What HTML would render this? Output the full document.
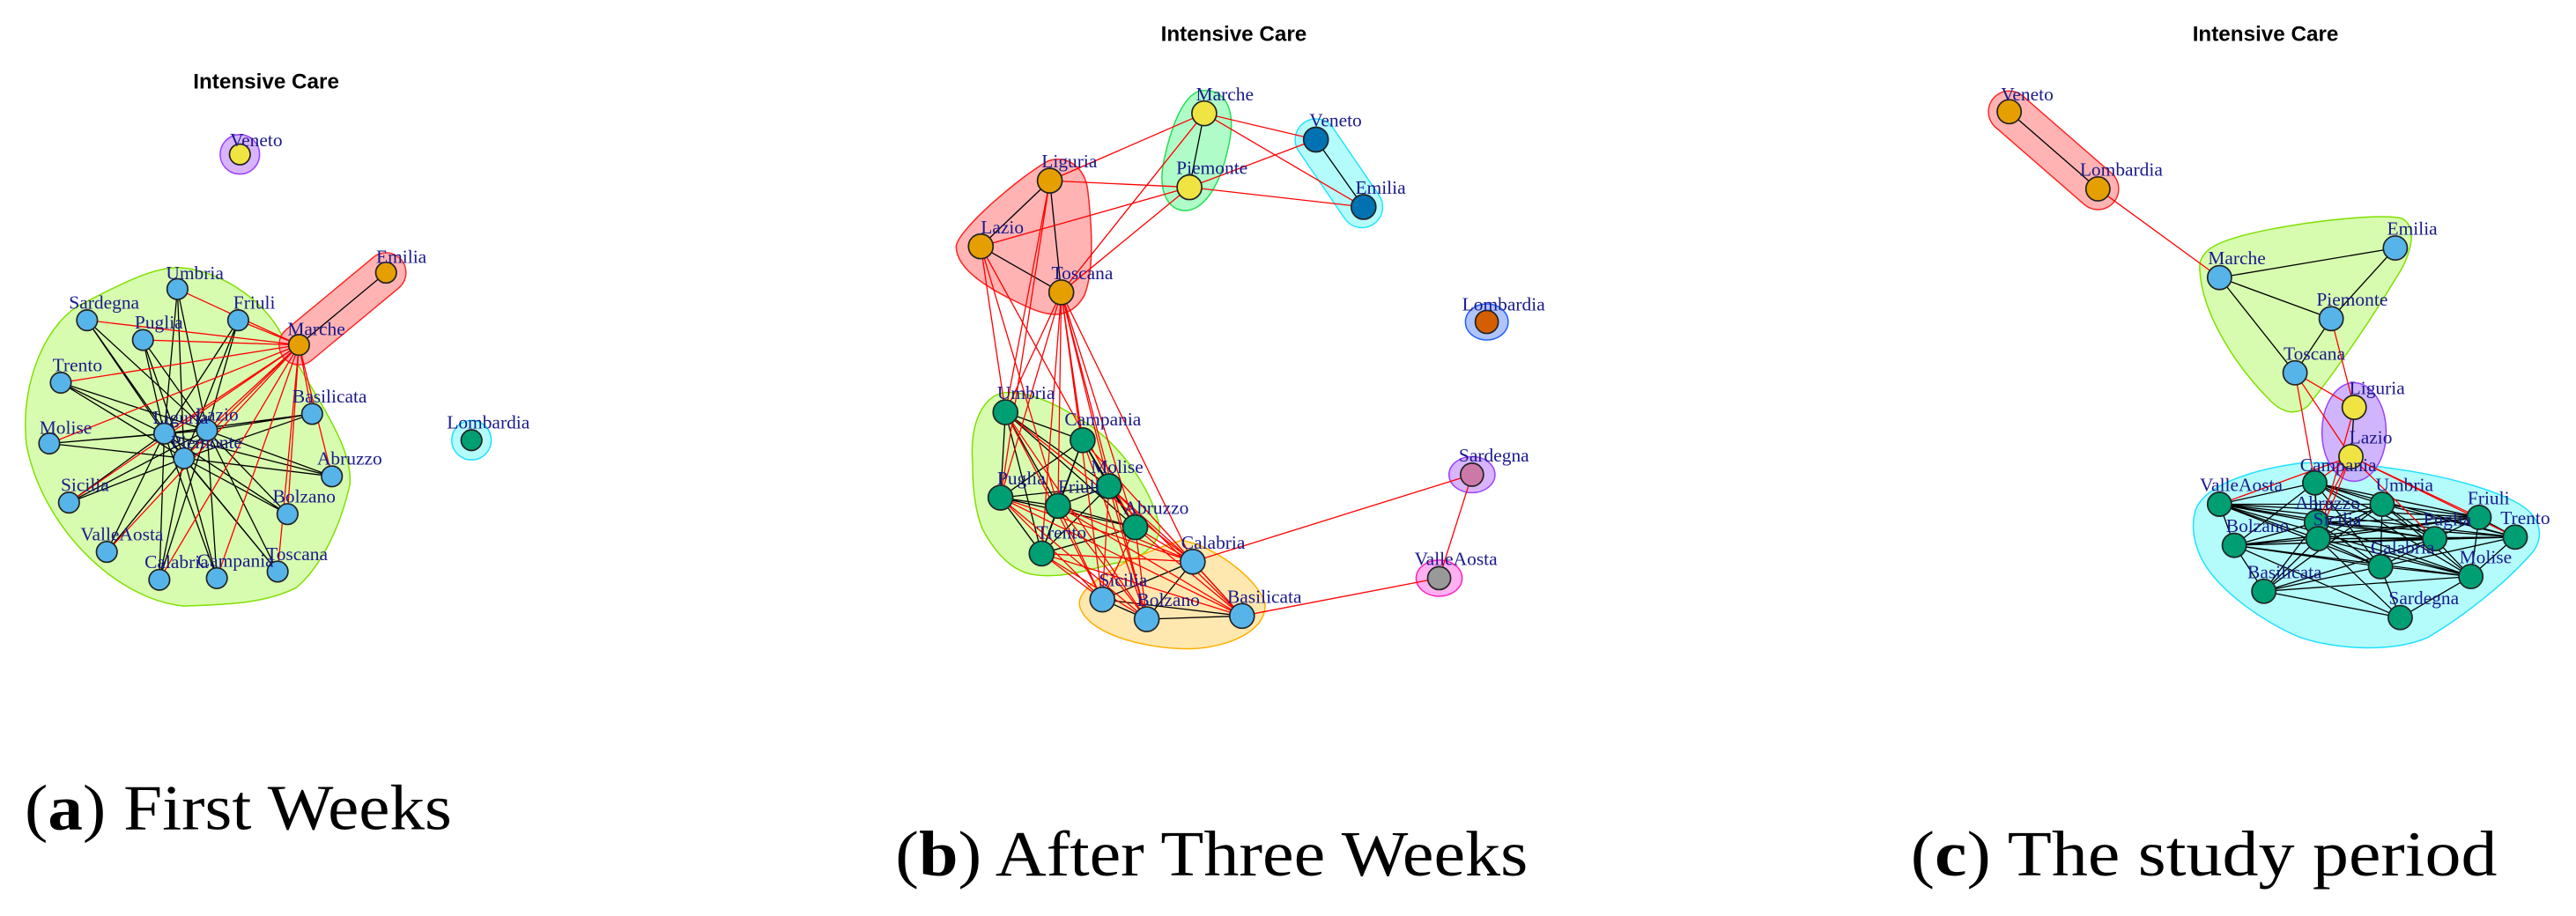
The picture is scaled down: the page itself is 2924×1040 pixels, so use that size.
<!DOCTYPE html>
<html><head><meta charset="utf-8"><style>
html,body{margin:0;padding:0;background:#fff;}
svg{display:block;}
.l{font-family:"Liberation Serif",serif;font-size:11.5px;fill:#1a1a8c;}
.t{font-family:"Liberation Sans",sans-serif;font-size:13px;font-weight:bold;fill:#000;text-anchor:middle;}
.cap{font-family:"Liberation Serif",serif;font-size:39px;fill:#000;}
.n{stroke:#222;stroke-width:0.9;}
</style></head><body>
<svg width="2924" height="1040" viewBox="0 0 1568 557.7" preserveAspectRatio="none" xmlns="http://www.w3.org/2000/svg">
<rect width="1568" height="558" fill="#fff"/>
<!-- ===== Panel A ===== -->
<text class="t" x="162" y="54">Intensive Care</text>
<path d="M112 369 C70 365 25 320 16 270 C12 230 30 195 50 185 C75 172 95 162 110 163 C130 164 160 180 172 205 C190 240 215 270 213 295 C205 330 190 350 180 358 C160 368 135 368 112 369Z" fill="#d7fcb0" stroke="#80e000" stroke-width="0.8"/>
<line x1="235" y1="166" x2="182" y2="210" stroke="#ff2020" stroke-width="25" stroke-linecap="round"/>
<line x1="235" y1="166" x2="182" y2="210" stroke="#ffb3b3" stroke-width="23.5" stroke-linecap="round"/>
<circle cx="146" cy="94" r="12" fill="#d8b4fc" stroke="#9a40ff" stroke-width="0.8"/>
<circle cx="287" cy="268" r="12" fill="#b4fcfc" stroke="#20e0ff" stroke-width="0.8"/>
<path stroke="#000" stroke-width="0.7" fill="none" d="
M100 264L108 176M100 264L53 195M100 264L87 207M100 264L145 195M100 264L37 233M100 264L30 270M100 264L190 252M100 264L202 290M100 264L42 306M100 264L175 313M100 264L65 336M100 264L97 353M100 264L132 352M100 264L169 348
M126 262L108 176M126 262L53 195M126 262L87 207M126 262L145 195M126 262L37 233M126 262L30 270M126 262L190 252M126 262L202 290M126 262L42 306M126 262L175 313M126 262L65 336M126 262L97 353M126 262L132 352M126 262L169 348
M112 279L108 176M112 279L53 195M112 279L87 207M112 279L145 195M112 279L37 233M112 279L30 270M112 279L190 252M112 279L202 290M112 279L42 306M112 279L175 313M112 279L65 336M112 279L97 353M112 279L132 352M112 279L169 348
M100 264L126 262M126 262L112 279M100 264L112 279M235 166L182 210"/>
<path stroke="#ff0000" stroke-width="0.7" fill="none" d="
M182 210L108 176M182 210L53 195M182 210L87 207M182 210L145 195M182 210L37 233M182 210L30 270M182 210L100 264M182 210L126 262M182 210L112 279M182 210L190 252M182 210L202 290M182 210L42 306M182 210L175 313M182 210L65 336M182 210L97 353M182 210L132 352M182 210L169 348"/>
<g class="n" fill="#56b4e9">
<circle cx="108" cy="176" r="6.3"/><circle cx="53" cy="195" r="6.3"/><circle cx="87" cy="207" r="6.3"/><circle cx="145" cy="195" r="6.3"/><circle cx="37" cy="233" r="6.3"/><circle cx="30" cy="270" r="6.3"/><circle cx="100" cy="264" r="6.3"/><circle cx="126" cy="262" r="6.3"/><circle cx="112" cy="279" r="6.3"/><circle cx="190" cy="252" r="6.3"/><circle cx="202" cy="290" r="6.3"/><circle cx="42" cy="306" r="6.3"/><circle cx="175" cy="313" r="6.3"/><circle cx="65" cy="336" r="6.3"/><circle cx="97" cy="353" r="6.3"/><circle cx="132" cy="352" r="6.3"/><circle cx="169" cy="348" r="6.3"/>
</g>
<circle class="n" cx="146" cy="94" r="6.3" fill="#f0e442"/>
<circle class="n" cx="235" cy="166" r="6.3" fill="#e69f00"/>
<circle class="n" cx="182" cy="210" r="6.3" fill="#e69f00"/>
<circle class="n" cx="287" cy="268" r="6.3" fill="#009e73"/>
<g class="l">
<text x="140" y="89">Veneto</text><text x="229" y="160">Emilia</text><text x="175" y="204">Marche</text><text x="101" y="170">Umbria</text><text x="42" y="188">Sardegna</text><text x="82" y="200">Puglia</text><text x="142" y="188">Friuli</text><text x="32" y="226">Trento</text><text x="24" y="264">Molise</text><text x="93" y="258">Liguria</text><text x="119" y="256">Lazio</text><text x="104" y="273">Piemonte</text><text x="178" y="245">Basilicata</text><text x="193" y="283">Abruzzo</text><text x="37" y="299">Sicilia</text><text x="166" y="306">Bolzano</text><text x="49" y="329">ValleAosta</text><text x="88" y="346">Calabria</text><text x="120" y="345">Campania</text><text x="162" y="341">Toscana</text><text x="272" y="261">Lombardia</text>
</g>
<text class="cap" x="15" y="505" textLength="260" lengthAdjust="spacingAndGlyphs">(<tspan font-weight="bold">a</tspan>) First Weeks</text>

<!-- ===== Panel B ===== -->
<text class="t" x="751" y="25">Intensive Care</text>
<path d="M582 150 C583 140 620 108 638 98 C650 94 660 102 662 115 C665 140 666 165 660 180 C652 194 640 193 628 188 C605 178 582 165 582 150Z" fill="#ffb3b3" stroke="#ff2020" stroke-width="0.8"/>
<path d="M733 55 C748 55 752 70 748 88 C744 108 736 125 724 128 C712 130 705 118 708 100 C712 80 720 55 733 55Z" fill="#b0fcc8" stroke="#20e050" stroke-width="0.8"/>
<line x1="801" y1="85" x2="829" y2="126" stroke="#20e0ff" stroke-width="26" stroke-linecap="round"/>
<line x1="801" y1="85" x2="829" y2="126" stroke="#b4fcfc" stroke-width="24.5" stroke-linecap="round"/>
<path d="M592 282 C590 255 600 240 612 239 C630 238 650 250 665 260 C685 275 702 300 706 322 C704 335 690 342 678 343 C660 348 645 352 630 350 C615 348 605 335 598 322 C593 310 592 295 592 282Z" fill="#d7fcb0" stroke="#80e000" stroke-width="0.8"/>
<path d="M657 368 C656 355 690 338 719 329 C740 332 768 355 770 368 C771 385 745 395 723 395 C695 395 660 385 657 368Z" fill="#ffe8b0" stroke="#ffb000" stroke-width="0.8"/>
<ellipse cx="905" cy="196" rx="13" ry="11" fill="#b0c4fc" stroke="#2060ff" stroke-width="0.8"/>
<ellipse cx="896" cy="289" rx="14" ry="11" fill="#d8b4fc" stroke="#9a40ff" stroke-width="0.8"/>
<ellipse cx="876" cy="352" rx="14" ry="11" fill="#ffb0f0" stroke="#ff20c0" stroke-width="0.8"/>
<path stroke="#000" stroke-width="0.7" fill="none" d="
M639 110L597 150M639 110L646 178M597 150L646 178M733 69L724 114M801 85L830 126
M612 251L659 268M612 251L675 296M612 251L609 303M612 251L644 308M612 251L691 321M612 251L634 337
M659 268L675 296M659 268L609 303M659 268L644 308M659 268L691 321M659 268L634 337
M675 296L609 303M675 296L644 308M675 296L691 321M675 296L634 337
M609 303L644 308M609 303L691 321M609 303L634 337M644 308L691 321M644 308L634 337M691 321L634 337
M726 342L671 365M726 342L698 377M726 342L756 375M671 365L698 377M671 365L756 375M698 377L756 375"/>
<path stroke="#ff0000" stroke-width="0.7" fill="none" d="
M639 110L733 69M639 110L724 114M597 150L724 114M646 178L733 69M646 178L724 114M733 69L801 85M733 69L830 126M724 114L801 85M724 114L830 126
M597 150L612 251M597 150L644 308M597 150L691 321M639 110L612 251M639 110L609 303
M646 178L612 251M646 178L659 268M646 178L675 296M646 178L609 303M646 178L644 308M646 178L691 321M646 178L634 337M646 178L726 342M646 178L671 365M646 178L698 377
M612 251L726 342M612 251L671 365M612 251L698 377M659 268L726 342M659 268L698 377M659 268L756 375
M675 296L671 365M675 296L698 377M675 296L726 342M675 296L756 375
M609 303L726 342M609 303L671 365M609 303L698 377M609 303L756 375
M644 308L726 342M644 308L671 365M644 308L698 377M644 308L756 375
M691 321L671 365M691 321L698 377M691 321L756 375M691 321L726 342
M634 337L726 342M634 337L671 365M634 337L698 377M634 337L756 375
M726 342L896 289M896 289L876 352M876 352L756 375"/>
<g class="n">
<circle cx="733" cy="69" r="7.5" fill="#f0e442"/><circle cx="724" cy="114" r="7.5" fill="#f0e442"/>
<circle cx="801" cy="85" r="7.5" fill="#0072b2"/><circle cx="830" cy="126" r="7.5" fill="#0072b2"/>
<circle cx="639" cy="110" r="7.5" fill="#e69f00"/><circle cx="597" cy="150" r="7.5" fill="#e69f00"/><circle cx="646" cy="178" r="7.5" fill="#e69f00"/>
<g fill="#009e73"><circle cx="612" cy="251" r="7.5"/><circle cx="659" cy="268" r="7.5"/><circle cx="675" cy="296" r="7.5"/><circle cx="609" cy="303" r="7.5"/><circle cx="644" cy="308" r="7.5"/><circle cx="691" cy="321" r="7.5"/><circle cx="634" cy="337" r="7.5"/></g>
<g fill="#56b4e9"><circle cx="726" cy="342" r="7.5"/><circle cx="671" cy="365" r="7.5"/><circle cx="698" cy="377" r="7.5"/><circle cx="756" cy="375" r="7.5"/></g>
<circle cx="905" cy="196" r="7" fill="#d55e00"/><circle cx="896" cy="289" r="7" fill="#cc79a7"/><circle cx="876" cy="352" r="7" fill="#999"/>
</g>
<g class="l">
<text x="728" y="61">Marche</text><text x="716" y="106">Piemonte</text><text x="797" y="77">Veneto</text><text x="825" y="118">Emilia</text><text x="634" y="102">Liguria</text><text x="597" y="142">Lazio</text><text x="640" y="170">Toscana</text><text x="607" y="243">Umbria</text><text x="648" y="259">Campania</text><text x="664" y="288">Molise</text><text x="607" y="295">Puglia</text><text x="644" y="300">Friuli</text><text x="684" y="313">Abruzzo</text><text x="631" y="328">Trento</text><text x="719" y="334">Calabria</text><text x="669" y="357">Sicilia</text><text x="692" y="369">Bolzano</text><text x="747" y="367">Basilicata</text><text x="890" y="189">Lombardia</text><text x="888" y="281">Sardegna</text><text x="861" y="344">ValleAosta</text>
</g>
<text class="cap" x="545" y="533" textLength="385" lengthAdjust="spacingAndGlyphs">(<tspan font-weight="bold">b</tspan>) After Three Weeks</text>

<!-- ===== Panel C ===== -->
<text class="t" x="1379" y="25">Intensive Care</text>
<line x1="1223" y1="68" x2="1277" y2="115" stroke="#ff2020" stroke-width="26" stroke-linecap="round"/>
<line x1="1223" y1="68" x2="1277" y2="115" stroke="#ffb3b3" stroke-width="24.5" stroke-linecap="round"/>
<path d="M1339 164 C1338 152 1350 146 1380 140 C1410 134 1450 130 1462 133 C1472 138 1468 155 1458 170 C1440 200 1420 228 1405 247 C1398 253 1390 252 1382 244 C1360 222 1340 190 1339 164Z" fill="#d7fcb0" stroke="#80e000" stroke-width="0.8"/>
<path d="M1336 312 C1340 296 1370 286 1400 282 C1440 280 1500 290 1530 305 C1550 315 1548 330 1540 338 C1525 355 1500 375 1478 388 C1455 398 1420 395 1400 388 C1380 380 1350 360 1340 340 C1335 330 1334 320 1336 312Z" fill="#b4fcfc" stroke="#20e0ff" stroke-width="0.8"/>
<ellipse cx="1432.9" cy="263" rx="19.5" ry="30" fill="#c8a8fc" fill-opacity="0.85" stroke="#9a40ff" stroke-width="0.8"/>
<path stroke="#000" stroke-width="0.7" fill="none" d="
M1223 68L1277 115M1351 169L1458 151M1351 169L1419 194M1351 169L1397 227M1419 194L1458 151M1419 194L1397 227M1433 248L1431 278
M1409 294L1351 307M1409 294L1450 307M1409 294L1509 315M1409 294L1531 327M1409 294L1410 318M1409 294L1411 328M1409 294L1482 328M1409 294L1360 332M1409 294L1449 345M1409 294L1504 351
M1351 307L1450 307M1351 307L1509 315M1351 307L1531 327M1351 307L1410 318M1351 307L1411 328M1351 307L1482 328M1351 307L1360 332M1351 307L1449 345M1351 307L1504 351
M1450 307L1509 315M1450 307L1531 327M1450 307L1410 318M1450 307L1411 328M1450 307L1482 328M1450 307L1360 332M1450 307L1449 345M1450 307L1504 351M1450 307L1378 360
M1509 315L1531 327M1509 315L1410 318M1509 315L1411 328M1509 315L1482 328M1509 315L1360 332M1509 315L1504 351
M1531 327L1410 318M1531 327L1411 328M1531 327L1482 328M1531 327L1360 332M1531 327L1449 345M1531 327L1504 351
M1410 318L1411 328M1410 318L1482 328M1410 318L1360 332M1410 318L1449 345M1410 318L1504 351M1410 318L1378 360
M1411 328L1482 328M1411 328L1360 332M1411 328L1449 345M1411 328L1378 360M1411 328L1461 376M1411 328L1504 351
M1482 328L1360 332M1482 328L1449 345M1482 328L1504 351M1482 328L1378 360
M1360 332L1449 345M1360 332L1504 351M1360 332L1378 360M1360 332L1461 376
M1449 345L1504 351M1449 345L1378 360M1449 345L1461 376M1504 351L1378 360M1504 351L1461 376M1378 360L1461 376"/>
<path stroke="#ff0000" stroke-width="0.7" fill="none" d="
M1277 115L1351 169M1419 194L1433 248M1397 227L1433 248M1397 227L1431 278M1397 227L1409 294M1433 248L1411 328
M1431 278L1351 307M1431 278L1411 328M1431 278L1410 318M1431 278L1482 328M1431 278L1509 315M1431 278L1531 327M1431 278L1409 294"/>
<g class="n">
<circle cx="1223" cy="68" r="7.3" fill="#e69f00"/><circle cx="1277" cy="115" r="7.3" fill="#e69f00"/>
<g fill="#56b4e9"><circle cx="1351" cy="169" r="7.3"/><circle cx="1458" cy="151" r="7.3"/><circle cx="1419" cy="194" r="7.3"/><circle cx="1397" cy="227" r="7.3"/></g>
<circle cx="1433" cy="248" r="7.3" fill="#f0e442"/><circle cx="1431" cy="278" r="7.3" fill="#f0e442"/>
<g fill="#009e73"><circle cx="1409" cy="294" r="7.3"/><circle cx="1351" cy="307" r="7.3"/><circle cx="1450" cy="307" r="7.3"/><circle cx="1509" cy="315" r="7.3"/><circle cx="1531" cy="327" r="7.3"/><circle cx="1410" cy="318" r="7.3"/><circle cx="1411" cy="328" r="7.3"/><circle cx="1482" cy="328" r="7.3"/><circle cx="1360" cy="332" r="7.3"/><circle cx="1449" cy="345" r="7.3"/><circle cx="1504" cy="351" r="7.3"/><circle cx="1378" cy="360" r="7.3"/><circle cx="1461" cy="376" r="7.3"/></g>
</g>
<g class="l">
<text x="1218" y="61">Veneto</text><text x="1266" y="107">Lombardia</text><text x="1344" y="161">Marche</text><text x="1453" y="143">Emilia</text><text x="1410" y="186">Piemonte</text><text x="1390" y="219">Toscana</text><text x="1430" y="240">Liguria</text><text x="1430" y="270">Lazio</text><text x="1400" y="287">Campania</text><text x="1339" y="299">ValleAosta</text><text x="1446" y="299">Umbria</text><text x="1502" y="307">Friuli</text><text x="1522" y="319">Trento</text><text x="1397" y="310">Abruzzo</text><text x="1408" y="320">Sicilia</text><text x="1475" y="320">Puglia</text><text x="1355" y="324">Bolzano</text><text x="1443" y="337">Calabria</text><text x="1497" y="343">Molise</text><text x="1368" y="352">Basilicata</text><text x="1454" y="368">Sardegna</text>
</g>
<text class="cap" x="1163" y="533" textLength="357" lengthAdjust="spacingAndGlyphs">(<tspan font-weight="bold">c</tspan>) The study period</text>
</svg>
</body></html>
